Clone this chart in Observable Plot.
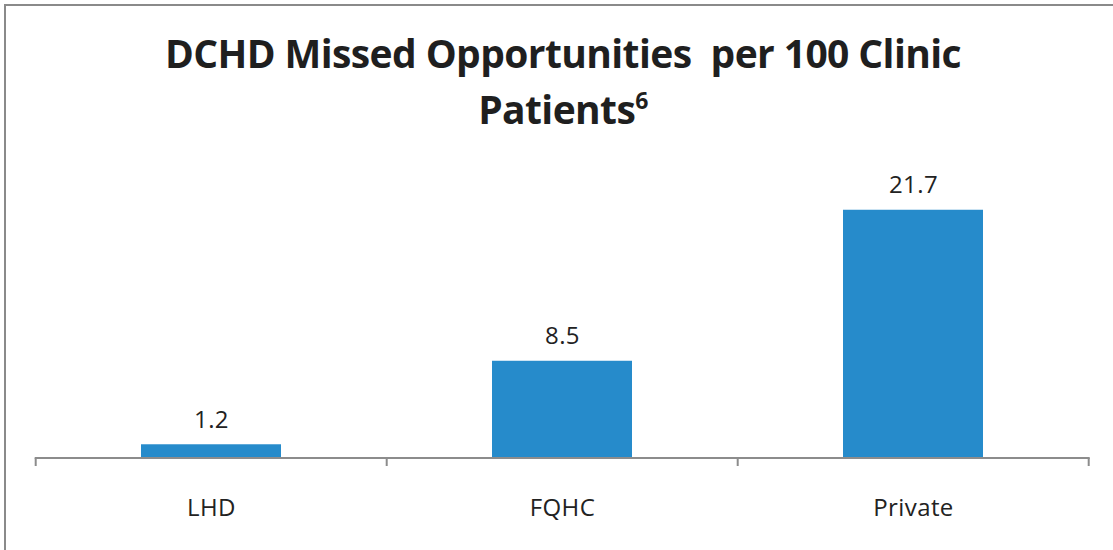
<!DOCTYPE html>
<html>
<head>
<meta charset="utf-8">
<script src="https://cdn.jsdelivr.net/npm/d3@7"></script>
<script src="https://cdn.jsdelivr.net/npm/@observablehq/plot@0.6"></script>
<style>
  html, body { margin: 0; padding: 0; background: #fff; }
  #frame {
    position: absolute; left: 4px; top: 4px; width: 1120px; height: 560px;
    border-top: 2px solid #8a8a8a; border-left: 2px solid #8a8a8a;
    box-sizing: border-box;
  }
  #title {
    position: absolute; left: 0; top: 25px; width: 1126px; text-align: center;
    font-family: "Open Sans", sans-serif; font-weight: 700; font-size: 39px;
    line-height: 56px; color: #1f1f1f; letter-spacing: -0.6px;
  }
  #title sup { font-size: 23px; vertical-align: 0; position: relative; top: -15px; }
  #chart { position: absolute; left: 0; top: 150px; }
</style>
</head>
<body>
<div id="frame"></div>
<div id="title">DCHD Missed Opportunities&nbsp; per 100 Clinic<br>Patients<sup>6</sup></div>
<div id="chart"></div>
<script>
const categories = ["LHD", "FQHC", "Private"];
const values = [1.2, 8.5, 21.7];
const labels = ["1.2", "8.5", "21.7"];

const data = categories.map((c, i) => ({category: c, value: values[i], label: labels[i]}));

const boundaryTicks = (index, scales, channels, dimensions) => {
  const x = scales.x;
  const step = x.step();
  const y0 = scales.y(0);
  const g = d3.create("svg:g");
  const start = x(categories[0]) - x.paddingOuter() * step;
  for (let i = 0; i <= categories.length; i++) {
    const px = start + i * step;
    g.append("line").attr("x1", px).attr("x2", px).attr("y1", y0).attr("y2", y0 + 8)
      .attr("stroke", "#8c8c8c").attr("stroke-width", 2);
  }
  const xEnd = start + categories.length * step;
  g.append("line").attr("x1", start - 1).attr("x2", xEnd + 1).attr("y1", y0).attr("y2", y0)
    .attr("stroke", "#8c8c8c").attr("stroke-width", 2);
  return g.node();
};

const chart = Plot.plot({
  width: 1113,
  height: 395,
  marginLeft: 36,
  marginRight: 24,
  marginTop: 22,
  marginBottom: 87,
  style: {fontFamily: "'Open Sans', sans-serif", background: "transparent", letterSpacing: "0.4px"},
  x: {domain: categories, paddingInner: 0.6, paddingOuter: 0.3, label: null},
  y: {domain: [0, 25], axis: null},
  marks: [
    Plot.barY(data, {x: "category", y: "value", fill: "#268bcb"}),
    boundaryTicks,
    Plot.text(data, {x: "category", y: "value", text: "label", lineAnchor: "bottom", dy: -17, fontSize: 24, fill: "#222"}),
    Plot.axisX({tickSize: 0, tickPadding: 40, fontSize: 24, fill: "#222", label: null})
  ]
});
document.getElementById("chart").appendChild(chart);
</script>
</body>
</html>
